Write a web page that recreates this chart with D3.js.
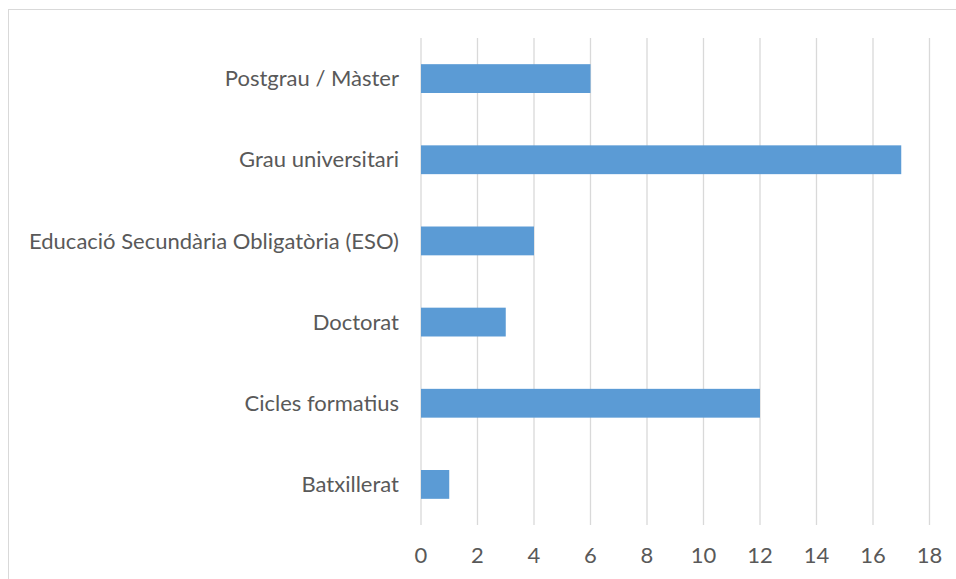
<!DOCTYPE html>
<html>
<head>
<meta charset="utf-8">
<script src="https://cdn.jsdelivr.net/npm/d3@7"></script>
<style>
  html, body { margin: 0; padding: 0; background: #fff; }
  svg { display: block; }
  text { font-family: Lato, "Open Sans", sans-serif; fill: #595959; }
</style>
</head>
<body>
<div id="chart"></div>
<script>
// data, top to bottom as drawn
const categories = [
  "Postgrau / Màster",
  "Grau universitari",
  "Educació Secundària Obligatòria (ESO)",
  "Doctorat",
  "Cicles formatius",
  "Batxillerat"
];
const values = [6, 17, 4, 3, 12, 1];
const tickValues = [0, 2, 4, 6, 8, 10, 12, 14, 16, 18];

const width = 956, height = 579;
const plot = { left: 421, right: 929.5, top: 38, bottom: 525 };

const svg = d3.select("#chart")
  .append("svg")
  .attr("width", width)
  .attr("height", height);

// chart frame (runs off the right and bottom edges)
svg.append("rect")
  .attr("x", 8.5)
  .attr("y", 9.5)
  .attr("width", width + 20)
  .attr("height", height + 20)
  .attr("fill", "none")
  .attr("stroke", "#d9d9d9")
  .attr("stroke-width", 1);

const x = d3.scaleLinear()
  .domain([0, 18])
  .range([plot.left, plot.right]);

const y = d3.scaleBand()
  .domain(categories)
  .range([plot.top, plot.bottom])
  .paddingInner(0.645)
  .paddingOuter(0.3225);

// vertical gridlines
svg.append("g")
  .selectAll("line")
  .data(tickValues)
  .enter()
  .append("line")
  .attr("x1", d => x(d))
  .attr("x2", d => x(d))
  .attr("y1", plot.top)
  .attr("y2", plot.bottom)
  .attr("stroke", "#d9d9d9")
  .attr("stroke-width", 1.3);

// bars
svg.append("g")
  .selectAll("rect")
  .data(values)
  .enter()
  .append("rect")
  .attr("x", x(0))
  .attr("y", (d, i) => y(categories[i]))
  .attr("width", d => x(d) - x(0))
  .attr("height", y.bandwidth())
  .attr("fill", "#5b9bd5");

// category labels
svg.append("g")
  .selectAll("text")
  .data(categories)
  .enter()
  .append("text")
  .attr("x", 399)
  .attr("y", d => y(d) + y.bandwidth() / 2)
  .attr("dy", "0.35em")
  .attr("text-anchor", "end")
  .style("font-size", "22px")
  .text(d => d);

// x tick labels
svg.append("g")
  .selectAll("text")
  .data(tickValues)
  .enter()
  .append("text")
  .attr("x", d => x(d))
  .attr("y", 563)
  .attr("text-anchor", "middle")
  .style("font-size", "22px")
  .text(d => d);
</script>
</body>
</html>
